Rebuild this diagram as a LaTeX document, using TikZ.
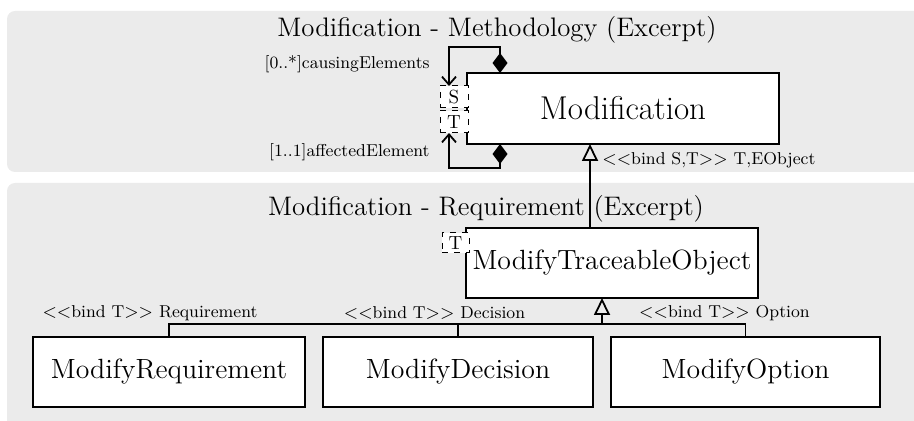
\documentclass[tikz,border=0pt]{standalone}
\usetikzlibrary{arrows.meta}
\newcommand{\lguil}{\mbox{$<$}\mbox{$<$}}
\newcommand{\rguil}{\mbox{$>$}\mbox{$>$}}
\begin{document}
\begin{tikzpicture}[x=0.5pt,y=-0.5pt,
  panel/.style={fill=black!8,draw=none,rounded corners=4pt},
  cls/.style={draw,fill=white,line width=0.9pt,inner sep=0pt,font=\fontsize{13.9}{16}\selectfont},
  param/.style={draw,dashed,fill=white,line width=0.5pt,inner sep=0pt,font=\fontsize{9.5}{10}\selectfont},
  ttl/.style={font=\fontsize{13.4}{15}\selectfont},
  lbl/.style={font=\fontsize{8.6}{10}\selectfont,inner sep=0pt},
  conn/.style={line width=0.9pt},
  comp/.style={conn,{Diamond[length=10pt,width=7.5pt]}-{Straight Barb[length=4pt,width=7pt]}},
  gen/.style={conn,-{Triangle[open,length=8.5pt,width=8pt]}}
]
\useasboundingbox (0,0) rectangle (914,421);
\clip (0,0) rectangle (914,421);
% panels
\fill[panel] (7,11) rectangle (940,172);
\fill[panel] (7,183) rectangle (940,450);
% titles
\node[ttl] (t1) at (497,30) {Modification - Methodology (Excerpt)};
\node[ttl] (t2) at (486,209) {Modification - Requirement (Excerpt)};
% Modification
\node[cls,minimum width=156pt,minimum height=35.5pt,font=\fontsize{16.5}{19}\selectfont] (mod) at (623,108.5) {Modification};
\node[param,minimum width=14pt,minimum height=11pt] (S) at (454,97) {S};
\node[param,minimum width=14pt,minimum height=11pt] (T) at (454,122) {T};
% self associations
\coordinate (d1) at (500,73);
\coordinate (c1) at (449,47);
\coordinate (s1) at (449,86);
\draw[comp] (d1) |- (c1) -- (s1);
\coordinate (d2) at (500,144);
\coordinate (c2) at (449,168);
\coordinate (s2) at (449,133);
\draw[comp] (d2) |- (c2) -- (s2);
\node[lbl,anchor=east] (l1) at (430,64) {[0..*]causingElements};
\node[lbl,anchor=east] (l2) at (430,152) {[1..1]affectedElement};
% ModifyTraceableObject
\node[cls,minimum width=146pt,minimum height=35pt] (mto) at (612,263) {ModifyTraceableObject};
\node[param,minimum width=13.5pt,minimum height=10pt] (T2) at (455.5,243) {T};
\coordinate (m1) at (590,228);
\coordinate (m2) at (590,144);
\draw[gen] (m1) -- (m2);
\node[lbl,anchor=west] (b1) at (602,160) {\lguil bind S,T\rguil{} T,EObject};
% subclasses
\node[cls,minimum width=136pt,minimum height=35pt] (req) at (169,372) {ModifyRequirement};
\node[cls,minimum width=135pt,minimum height=35pt] (dec) at (458,372) {ModifyDecision};
\node[cls,minimum width=134.5pt,minimum height=35pt] (opt) at (745.5,372) {ModifyOption};
\coordinate (j) at (602,324);
\coordinate (jt) at (602,298);
\draw[gen] (j) -- (jt);
\draw[conn] (req.north) |- (j) -| (opt.north);
\draw[conn] (dec.north) -- (dec.north |- j);
\node[lbl] (b2) at (150,313) {\lguil bind T\rguil{} Requirement};
\node[lbl] (b3) at (434.5,313) {\lguil bind T\rguil{} Decision};
\node[lbl] (b4) at (724.5,313) {\lguil bind T\rguil{} Option};
\end{tikzpicture}
\end{document}
